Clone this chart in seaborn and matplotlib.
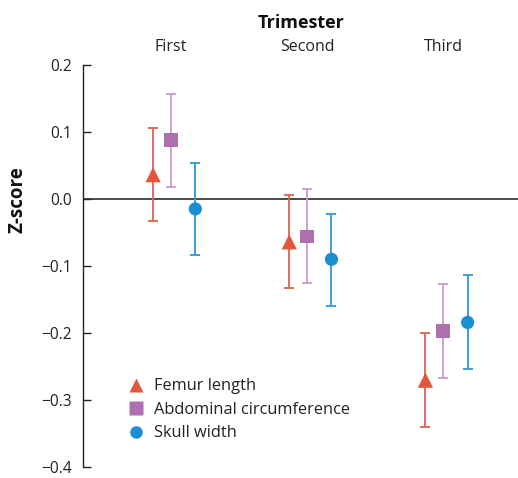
import numpy as np
import pandas as pd
import matplotlib
matplotlib.use("Agg")
import matplotlib.pyplot as plt
import seaborn as sns
from matplotlib.lines import Line2D

# ---- data ----
trimesters = ["First", "Second", "Third"]
measures = ["Femur length", "Abdominal circumference", "Skull width"]

femur_mean = [0.036, -0.064, -0.270]
femur_low = [-0.033, -0.133, -0.339]
femur_high = [0.106, 0.005, -0.200]

abdo_mean = [0.087, -0.056, -0.197]
abdo_low = [0.017, -0.126, -0.267]
abdo_high = [0.156, 0.014, -0.127]

skull_mean = [-0.015, -0.090, -0.184]
skull_low = [-0.084, -0.160, -0.254]
skull_high = [0.053, -0.022, -0.114]

yticks = [0.2, 0.1, 0.0, -0.1, -0.2, -0.3, -0.4]
ytick_labels = ["0.2", "0.1", "0.0", "\u22120.1", "\u22120.2", "\u22120.3", "\u22120.4"]

# ---- style ----
colors = {"Femur length": "#E2573B", "Abdominal circumference": "#AE6FAE", "Skull width": "#1A8FD2"}
err_colors = {"Femur length": "#E2614A", "Abdominal circumference": "#C99BC9", "Skull width": "#2B97D4"}
markers = {"Femur length": "^", "Abdominal circumference": "s", "Skull width": "o"}
sizes = {"Femur length": 11, "Abdominal circumference": 10, "Skull width": 9.5}
offsets = {"Femur length": -0.13, "Abdominal circumference": 0.0, "Skull width": 0.18}

rows = []
for m, mean, lo, hi in [(measures[0], femur_mean, femur_low, femur_high),
                        (measures[1], abdo_mean, abdo_low, abdo_high),
                        (measures[2], skull_mean, skull_low, skull_high)]:
    for i, t in enumerate(trimesters):
        rows.append({"trimester": t, "idx": i, "measure": m,
                     "mean": mean[i], "low": lo[i], "high": hi[i]})
df = pd.DataFrame(rows)
df["x"] = df["idx"] + df["measure"].map(offsets)

sns.set_theme(style="white")
plt.rcParams["font.family"] = ["Open Sans", "DejaVu Sans"]

fig = plt.figure(figsize=(5.18, 4.78), dpi=100)
ax = fig.add_axes([0.161, 0.022, 0.839, 0.843])

ax.axhline(0, color="#2b2b2b", lw=1.2, zorder=1)

for m in measures:
    sub = df[df["measure"] == m]
    ax.errorbar(sub["x"], sub["mean"],
                yerr=[sub["mean"] - sub["low"], sub["high"] - sub["mean"]],
                fmt="none", ecolor=err_colors[m], elinewidth=1.3,
                capsize=3.3, capthick=1.3, zorder=2)

for m in measures:
    sub = df[df["measure"] == m]
    sns.scatterplot(data=sub, x="x", y="mean", marker=markers[m],
                    color=colors[m], s=sizes[m] ** 2, edgecolor="none",
                    linewidth=0, ax=ax, zorder=3, legend=False)

ax.set_xlim(-0.642, 2.55)
ax.set_ylim(-0.4, 0.2)
ax.set_xticks(range(len(trimesters)))
ax.set_xticklabels(trimesters, fontsize=11.5, color="#222222")
ax.xaxis.tick_top()
ax.xaxis.set_label_position("top")
ax.tick_params(axis="x", length=0, pad=7)
ax.set_xlabel("Trimester", fontsize=13, fontweight="bold", labelpad=8, color="#111111")

ax.set_yticks(yticks)
ax.set_yticklabels(ytick_labels, fontsize=11.2, color="#222222")
ax.tick_params(axis="y", direction="in", length=6, width=1, color="#222222", pad=8, left=True)
ax.set_ylabel("Z-score", fontsize=13.5, fontweight="bold", color="#111111")
ax.yaxis.set_label_coords(-0.128, 0.665)

for s in ["top", "right", "bottom"]:
    ax.spines[s].set_visible(False)
ax.spines["left"].set_color("#222222")
ax.spines["left"].set_linewidth(1.0)

handles = [Line2D([0], [0], marker=markers[m], color="none", markerfacecolor=colors[m],
                  markeredgecolor="none", markersize=sizes[m] * 0.95, linestyle="none")
           for m in measures]
leg = ax.legend(handles, measures, loc="center left", bbox_to_anchor=(0.103, 0.143),
                frameon=False, borderpad=0, handlelength=1.0, handletextpad=0.6,
                labelspacing=0.45, fontsize=11.8, borderaxespad=0)
for t in leg.get_texts():
    t.set_color("#222222")

fig.savefig("out.png", dpi=100)
